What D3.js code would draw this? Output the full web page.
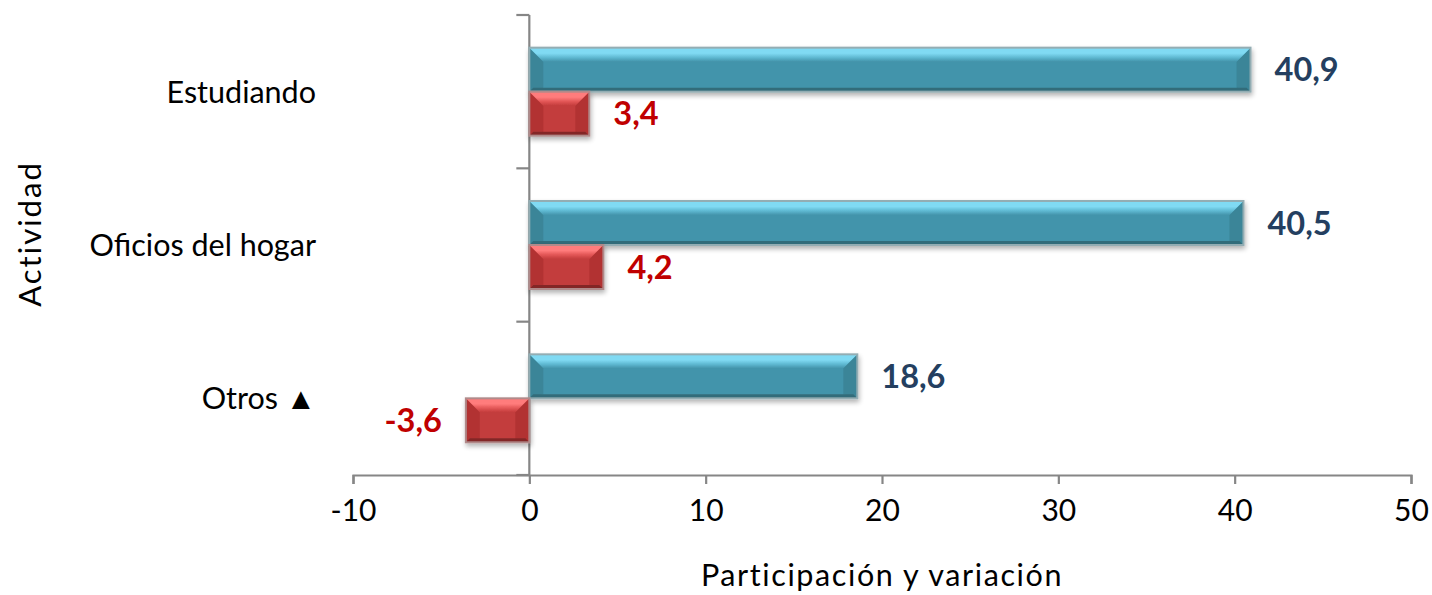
<!DOCTYPE html>
<html>
<head>
<meta charset="utf-8">
<script src="https://cdn.jsdelivr.net/npm/d3@7"></script>
<style>
  body { margin: 0; background: #fff; }
  svg { display: block; }
  text { font-family: Lato, "Open Sans", sans-serif; }
</style>
</head>
<body>
<div id="chart"></div>
<script>
var categories = ["Estudiando", "Oficios del hogar", "Otros \u25B2"];
var series = ["Participación", "Variación"];
var participacion = [40.9, 40.5, 18.6];
var variacion = [3.4, 4.2, -3.6];
var xTicks = [-10, 0, 10, 20, 30, 40, 50];

var width = 1432, height = 595;
var svg = d3.select("#chart").append("svg")
  .attr("width", width)
  .attr("height", height);

var defs = svg.append("defs");
var shadow = defs.append("filter").attr("id", "shadow")
  .attr("x", "-20%").attr("y", "-30%").attr("width", "140%").attr("height", "170%");
shadow.append("feGaussianBlur").attr("in", "SourceAlpha").attr("stdDeviation", 2.5);
shadow.append("feOffset").attr("dx", 1).attr("dy", 3).attr("result", "off");
shadow.append("feComponentTransfer").append("feFuncA").attr("type", "linear").attr("slope", 0.3);
var merge = shadow.append("feMerge");
merge.append("feMergeNode");
merge.append("feMergeNode").attr("in", "SourceGraphic");

// colours for the bevelled bars
var palette = {
  "Participación": { id: "blue", outline: "#93adb3", top: "#80daf3", mid: "#5fb9d2", body: "#4394ab", bottom: "#336c7a", side: "#3a8598", label: "#243f60" },
  "Variación": { id: "red", outline: "#b08a8a", top: "#ff7b7b", mid: "#e25656", body: "#c33c3c", bottom: "#832828", side: "#b23333", label: "#c00000" }
};

Object.keys(palette).forEach(function(k) {
  var col = palette[k];
  var gr = defs.append("linearGradient").attr("id", "top-" + col.id)
    .attr("x1", 0).attr("y1", 0).attr("x2", 0).attr("y2", 1);
  gr.append("stop").attr("offset", "0%").attr("stop-color", col.top);
  gr.append("stop").attr("offset", "40%").attr("stop-color", col.top);
  gr.append("stop").attr("offset", "70%").attr("stop-color", col.mid);
  gr.append("stop").attr("offset", "100%").attr("stop-color", col.body);
});

var x = d3.scaleLinear().domain([-10, 50]).range([353, 1411]);
var y = d3.scaleBand().domain(categories).range([15, 475]);
var barH = 44;
var y1 = d3.scaleBand().domain(series).range([0, barH * 2]);
var off = y.bandwidth() / 2 - barH;

var rows = [];
categories.forEach(function(c, i) {
  rows.push({ cat: c, s: series[0], v: participacion[i] });
  rows.push({ cat: c, s: series[1], v: variacion[i] });
});

// axes
var xAxis = svg.append("g")
  .attr("transform", "translate(0," + 475 + ")")
  .call(d3.axisBottom(x).tickValues(xTicks).tickSize(9).tickPadding(16).tickFormat(d3.format("d")));
xAxis.select(".domain").attr("stroke", "#868686").attr("stroke-width", 2.2);
xAxis.selectAll(".tick line").attr("stroke", "#868686").attr("stroke-width", 2.2);
xAxis.selectAll(".tick text").attr("fill", "#000").attr("font-size", 30)
  .style("font-family", "Lato, sans-serif");
xAxis.selectAll(".tick text").text(function(d) { return d < 0 ? "-" + Math.abs(d) : d; });

var yAxis = svg.append("g");
yAxis.append("line")
  .attr("x1", x(0)).attr("x2", x(0))
  .attr("y1", 15).attr("y2", 475)
  .attr("stroke", "#868686").attr("stroke-width", 2.2);
var yEdges = categories.map(function(c) { return y(c); }).concat([y.range()[1]]);
yAxis.selectAll(".ytick").data(yEdges).enter().append("line")
  .attr("x1", x(0) - 13).attr("x2", x(0))
  .attr("y1", function(d) { return d; }).attr("y2", function(d) { return d; })
  .attr("stroke", "#868686").attr("stroke-width", 2.2);

svg.selectAll(".catlabel").data(categories).enter().append("text")
  .attr("x", 316)
  .attr("y", function(d) { return y(d) + y.bandwidth() / 2; })
  .attr("dy", "0.36em")
  .attr("text-anchor", "end")
  .attr("font-size", 30.5)
  .attr("fill", "#000")
  .text(function(d) { return d; });

// bars
var bars = svg.selectAll(".bar").data(rows).enter().append("g")
  .attr("class", "bar")
  .attr("filter", "url(#shadow)");

bars.each(function(d) {
  var g = d3.select(this);
  var col = palette[d.s];
  var x0 = Math.min(x(0), x(d.v)), x1 = Math.max(x(0), x(d.v));
  var y0 = y(d.cat) + off + y1(d.s), yb = y0 + barH;
  var b = Math.min(14, (x1 - x0) / 2), bb = 4;
  g.append("rect").attr("x", x0).attr("y", y0).attr("width", x1 - x0).attr("height", barH)
    .attr("fill", col.body);
  // left and right bevel sides
  g.append("path").attr("fill", col.side)
    .attr("d", "M" + x0 + "," + y0 + "L" + (x0 + b) + "," + (y0 + b) + "L" + (x0 + b) + "," + (yb - bb) + "L" + x0 + "," + yb + "Z");
  g.append("path").attr("fill", col.side)
    .attr("d", "M" + x1 + "," + y0 + "L" + (x1 - b) + "," + (y0 + b) + "L" + (x1 - b) + "," + (yb - bb) + "L" + x1 + "," + yb + "Z");
  // top highlight
  g.append("path").attr("fill", "url(#top-" + col.id + ")")
    .attr("d", "M" + x0 + "," + y0 + "L" + x1 + "," + y0 + "L" + (x1 - b) + "," + (y0 + b) + "L" + (x0 + b) + "," + (y0 + b) + "Z");
  // bottom shade
  g.append("path").attr("fill", col.bottom)
    .attr("d", "M" + x0 + "," + yb + "L" + x1 + "," + yb + "L" + (x1 - bb) + "," + (yb - bb) + "L" + (x0 + bb) + "," + (yb - bb) + "Z");
  g.append("rect").attr("x", x0).attr("y", y0).attr("width", x1 - x0).attr("height", barH)
    .attr("fill", "none").attr("stroke", col.outline).attr("stroke-width", 2);
});

// value labels
svg.selectAll(".vlabel").data(rows).enter().append("text")
  .attr("x", function(d) { return d.v >= 0 ? x(d.v) + 24 : x(d.v) - 24; })
  .attr("y", function(d) { return y(d.cat) + off + y1(d.s) + barH / 2; })
  .attr("dy", "0.36em")
  .attr("text-anchor", function(d) { return d.v >= 0 ? "start" : "end"; })
  .attr("font-size", 32.5)
  .attr("font-weight", "bold")
  .attr("fill", function(d) { return palette[d.s].label; })
  .text(function(d) { return d3.format(".1f")(d.v).replace("−", "-").replace(".", ","); });

// axis titles
svg.append("text")
  .attr("x", x(20))
  .attr("y", 586)
  .attr("text-anchor", "middle")
  .attr("font-size", 30.5)
  .attr("letter-spacing", 1.6)
  .attr("fill", "#000")
  .text("Participación y variación");

svg.append("text")
  .attr("transform", "translate(41,234) rotate(-90)")
  .attr("text-anchor", "middle")
  .attr("font-size", 31)
  .attr("letter-spacing", 2)
  .attr("fill", "#000")
  .text("Actividad");
</script>
</body>
</html>
